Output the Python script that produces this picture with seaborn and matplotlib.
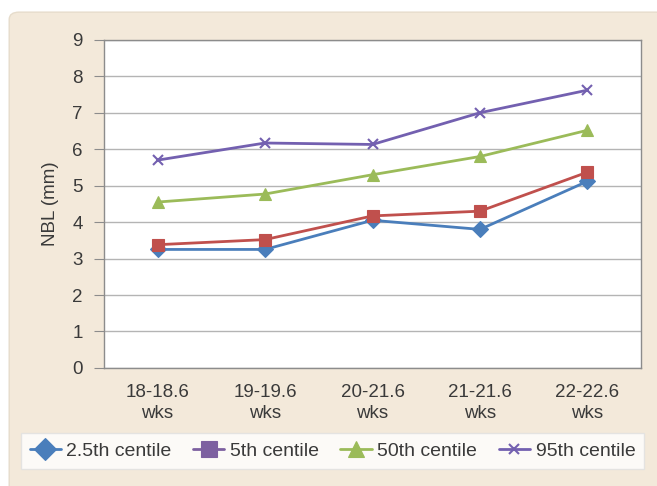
import matplotlib
matplotlib.use("Agg")
import matplotlib.pyplot as plt
import pandas as pd
import seaborn as sns
from matplotlib.lines import Line2D
from matplotlib.patches import FancyBboxPatch

categories = ["18-18.6\nwks", "19-19.6\nwks", "20-21.6\nwks", "21-21.6\nwks", "22-22.6\nwks"]
series_names = ["2.5th centile", "5th centile", "50th centile", "95th centile"]
c2_5 = [3.25, 3.25, 4.05, 3.8, 5.12]
c5 = [3.38, 3.52, 4.17, 4.3, 5.37]
c50 = [4.55, 4.77, 5.3, 5.8, 6.52]
c95 = [5.7, 6.17, 6.13, 7.0, 7.62]
yticks = list(range(0, 10))

line_colors = ["#4a7ebb", "#c0504d", "#9bbb59", "#7360b0"]
legend_colors = ["#4a7ebb", "#7d60a0", "#9bbb59", "#7360b0"]
markers = ["D", "s", "^", "x"]

rows = []
for name, vals in zip(series_names, [c2_5, c5, c50, c95]):
    for i, v in enumerate(vals):
        rows.append({"pos": i, "value": v, "series": name})
df = pd.DataFrame(rows)

sns.set_style("white")
plt.rcParams["font.family"] = ["Liberation Sans", "DejaVu Sans"]

fig = plt.figure(figsize=(6.57, 4.86), dpi=100, facecolor="white")
bg = FancyBboxPatch((0.014, -0.02), 1.0, 0.995, boxstyle="round,pad=0,rounding_size=0.015",
                    transform=fig.transFigure, facecolor="#f3e9da", edgecolor="#e6dccb",
                    linewidth=1.0, zorder=-10)
fig.patches.append(bg)

ax = fig.add_axes([0.158, 0.243, 0.818, 0.675])
ax.set_facecolor("white")

for name, col, mk in zip(series_names, line_colors, markers):
    sub = df[df["series"] == name]
    sns.lineplot(data=sub, x="pos", y="value", ax=ax, color=col, marker=mk,
                 markersize=8 if mk != "x" else 7, markeredgewidth=1.5 if mk == "x" else 0.8,
                 markeredgecolor=col, linewidth=2, legend=False)

ax.set_xlim(-0.5, 4.5)
ax.set_ylim(0, 9)
ax.set_yticks(yticks)
ax.set_xticks(range(len(categories)))
ax.set_xticklabels(categories, fontsize=13.5, color="#3a3a3a", linespacing=1.3)
ax.tick_params(axis="y", labelsize=13.5, labelcolor="#3a3a3a", left=True, length=7,
               color="#8c8c8c", pad=8)
ax.tick_params(axis="x", bottom=False, pad=8)
ax.grid(axis="y", color="#b4b4b4", linewidth=1)
ax.set_axisbelow(True)
for s in ax.spines.values():
    s.set_visible(True)
    s.set_color("#8c8c8c")
    s.set_linewidth(1)
ax.set_xlabel("")
ax.set_ylabel("NBL (mm)", fontsize=13.5, color="#3a3a3a", labelpad=10)

handles = [Line2D([0], [0], color=c, marker=m, markersize=11 if m != "x" else 7,
                  markeredgewidth=1.5 if m == "x" else 0.8, markeredgecolor=c, linewidth=2)
           for c, m in zip(legend_colors, markers)]
leg = fig.legend(handles, series_names, loc="center", bbox_to_anchor=(0.506, 0.072),
                 ncol=4, fontsize=14, frameon=True, fancybox=False, handlelength=1.6,
                 handletextpad=0.3, columnspacing=1.1, borderpad=0.45, labelcolor="#3a3a3a")
leg.get_frame().set_facecolor("white")
leg.get_frame().set_edgecolor("#e0e0e0")

fig.savefig("out.png", dpi=100, facecolor=fig.get_facecolor())
